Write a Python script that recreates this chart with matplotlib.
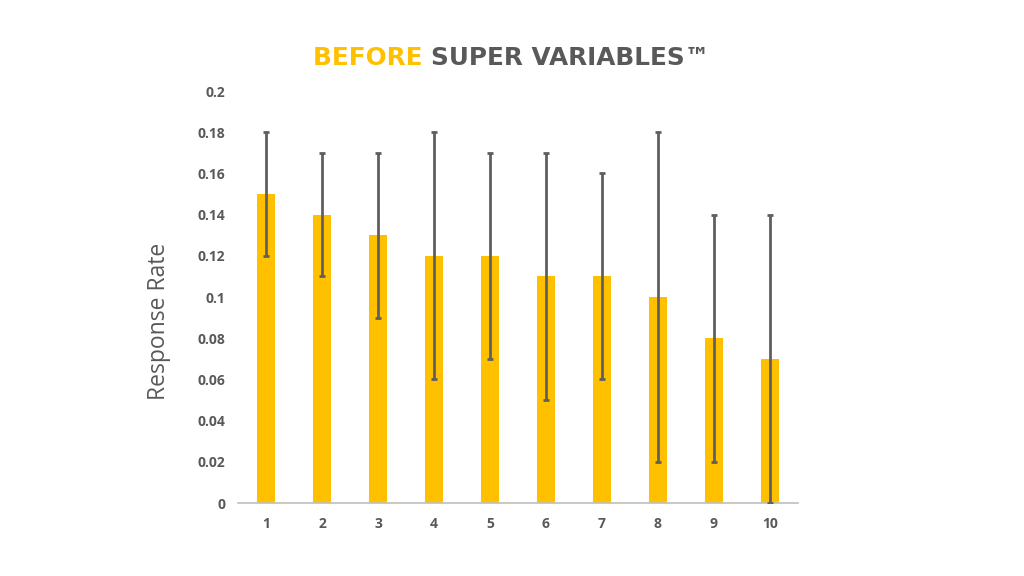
import matplotlib
matplotlib.use("Agg")
import matplotlib.pyplot as plt

# -----------------------------
# Data
# -----------------------------
groups = [1, 2, 3, 4, 5, 6, 7, 8, 9, 10]
response_rate = [0.15, 0.14, 0.13, 0.12, 0.12, 0.11, 0.11, 0.10, 0.08, 0.07]
error = [0.03, 0.03, 0.04, 0.06, 0.05, 0.06, 0.05, 0.08, 0.06, 0.07]
y_ticks = [0, 0.02, 0.04, 0.06, 0.08, 0.1, 0.12, 0.14, 0.16, 0.18, 0.2]
y_tick_labels = ["0", "0.02", "0.04", "0.06", "0.08", "0.1", "0.12",
                 "0.14", "0.16", "0.18", "0.2"]

# -----------------------------
# Plot
# -----------------------------
plt.rcParams["font.family"] = "Open Sans"

bar_color = "#FFC000"
grey = "#595959"

fig = plt.figure(figsize=(10.24, 5.76), dpi=100)
ax = fig.add_axes([0.2324, 0.1267, 0.5469, 0.7153])

ax.bar(groups, response_rate, width=0.32, color=bar_color, zorder=2)
ax.errorbar(groups, response_rate, yerr=error, fmt="none", ecolor="#5f5f5f",
            elinewidth=2, capsize=2.2, capthick=2, zorder=3)

ax.set_xlim(0.5, 10.5)
ax.set_ylim(0, 0.2)
ax.set_xticks(groups)
ax.set_xticklabels([str(g) for g in groups])
ax.set_yticks(y_ticks)
ax.set_yticklabels(y_tick_labels)

for lab in ax.get_xticklabels() + ax.get_yticklabels():
    lab.set_fontweight("bold")
    lab.set_fontsize(10)
    lab.set_color(grey)

ax.tick_params(axis="both", length=0)
ax.tick_params(axis="x", pad=10)
ax.tick_params(axis="y", pad=9)

for side in ["top", "right", "left"]:
    ax.spines[side].set_visible(False)
ax.spines["bottom"].set_color("#BFBFBF")
ax.spines["bottom"].set_linewidth(1.2)

ax.set_ylabel("Response Rate", fontsize=16.5, color=grey)
ax.yaxis.set_label_coords(-0.119, 0.44)

# -----------------------------
# Title in two colours, fitted to the reference width
# -----------------------------
title_left, title_right = 313 / 1024, 710 / 1024
title_y = 1 - 58 / 576
title_font = "DejaVu Sans"

t1 = fig.text(title_left, title_y, "BEFORE ", ha="left", va="center",
              fontsize=19, fontweight="bold", color=bar_color, family=title_font)
t2 = fig.text(0, title_y, "SUPER VARIABLES™", ha="left", va="center",
              fontsize=19, fontweight="bold", color=grey, family=title_font)
fig.canvas.draw()
w = (t1.get_window_extent().width + t2.get_window_extent().width) / fig.bbox.width
size = 19 * (title_right - title_left) / w
t1.set_fontsize(size)
t2.set_fontsize(size)
fig.canvas.draw()
t2.set_x(t1.get_window_extent().x1 / fig.bbox.width)

plt.savefig("out.png", dpi=100, facecolor="white")
